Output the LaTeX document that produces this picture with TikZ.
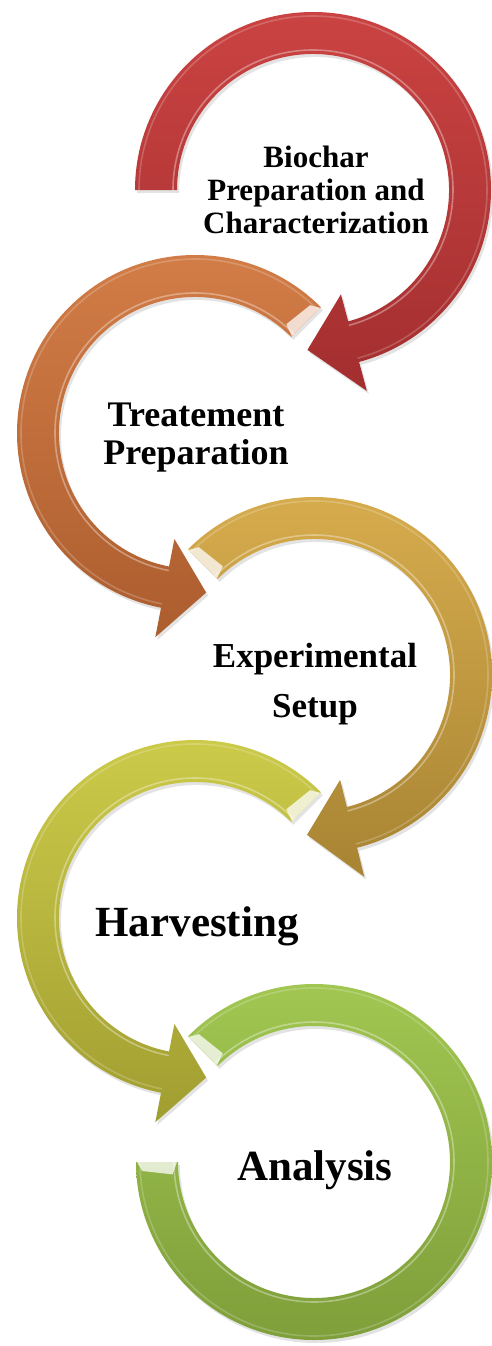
\documentclass[tikz,border=0pt]{standalone}
\usepackage{fontspec}
\setmainfont{Liberation Serif}
\usepackage{tikz}
\usetikzlibrary{calc,shadows}
\definecolor{red500}{HTML}{CA4342}
\definecolor{red700}{HTML}{A32E2F}
\definecolor{copper500}{HTML}{D47E48}
\definecolor{copper700}{HTML}{AC5D2E}
\definecolor{gold500}{HTML}{D8AD4E}
\definecolor{gold700}{HTML}{A88433}
\definecolor{olive500}{HTML}{CDCC4A}
\definecolor{olive700}{HTML}{A19E31}
\definecolor{lime500}{HTML}{A3C852}
\definecolor{lime700}{HTML}{7D9D39}
\tikzset{
  ring/.style={drop shadow={opacity=.22, shadow xshift=2pt, shadow yshift=-3pt}},
  redring/.style={ring, top color=red500, bottom color=red700},
  copperring/.style={ring, top color=copper500, bottom color=copper700},
  goldring/.style={ring, top color=gold500, bottom color=gold700},
  olivering/.style={ring, top color=olive500, bottom color=olive700},
  limering/.style={ring, top color=lime500, bottom color=lime700},
  gloss/.style={draw=white, line width=1.6pt, line cap=round, opacity=.35},
  bevel/.style={fill=white, opacity=.75},
  steplabel/.style={align=center, inner sep=0pt, text=black},
}
% ring arrow: style, centre, tail angle, barb angle, tip angle
\newcommand{\cyclearrow}[5]{%
  \path[#1] ($(#2)+(#3:178)$) arc[start angle=#3, end angle=#4, radius=178pt]
    -- ($(#2)+(#4:208)$) -- ($(#2)+(#5:160)$) -- ($(#2)+(#4:108)$)
    -- ($(#2)+(#4:136)$) arc[start angle=#4, end angle=#3, radius=136pt] -- cycle;
  \draw[gloss] ($(#2)+(#3:140)$) arc[start angle=#3, end angle=#4, radius=140pt];
  \draw[gloss, opacity=.2] ($(#2)+(#3:174)$) arc[start angle=#3, end angle=#4, radius=174pt];
}
% bevelled cut: centre, cut angle, inner angle, outer angle
\newcommand{\ringbevel}[4]{%
  \fill[bevel] ($(#1)+(#2:177)$) -- ($(#1)+(#2:137)$) -- ($(#1)+(#3:142)$) -- ($(#1)+(#4:172)$) -- cycle;
}

\begin{document}
\begin{tikzpicture}[x=1pt, y=1pt]
  \useasboundingbox (0,0) rectangle (492,-1346);

  \coordinate (c1) at (313,-190);
  \coordinate (c2) at (195,-433);
  \coordinate (c3) at (314,-675);
  \coordinate (c4) at (195,-918);
  \coordinate (c5) at (314,-1162);

  % arrows
  \cyclearrow{redring}{c1}{180}{-75}{-92}
  \cyclearrow{copperring}{c2}{45}{259}{274}
  \ringbevel{c2}{45}{50}{48}
  \cyclearrow{goldring}{c3}{135}{-76}{-92.5}
  \ringbevel{c3}{135}{130}{132}
  \cyclearrow{olivering}{c4}{45}{259}{274}
  \ringbevel{c4}{45}{50}{48}

  % last ring, no head
  \path[limering] ($(c5)+(135:178)$) arc[start angle=135, end angle=-180, radius=178pt]
    -- ($(c5)+(180:136)$) arc[start angle=-180, end angle=135, radius=136pt] -- cycle;
  \draw[gloss] ($(c5)+(135:140)$) arc[start angle=135, end angle=-180, radius=140pt];
  \draw[gloss, opacity=.2] ($(c5)+(135:174)$) arc[start angle=135, end angle=-180, radius=174pt];
  \ringbevel{c5}{135}{130}{132}
  \ringbevel{c5}{180}{185}{183}

  % labels
  \node[steplabel, font=\fontsize{31}{33}\selectfont\bfseries] (t1) at (316,-190) {Biochar\\Preparation and\\Characterization};
  \node[steplabel, font=\fontsize{36}{38}\selectfont\bfseries] (t2) at (196,-438) {Treatement\\Preparation};
  \node[steplabel, font=\fontsize{35}{36}\selectfont\bfseries] (t3) at (315,-684) {Experimental\\[14pt]Setup};
  \node[steplabel, font=\fontsize{43}{45}\selectfont\bfseries] (t4) at (197,-926) {Harvesting};
  \node[steplabel, font=\fontsize{43}{45}\selectfont\bfseries] (t5) at (315,-1170) {Analysis};
\end{tikzpicture}
\end{document}
